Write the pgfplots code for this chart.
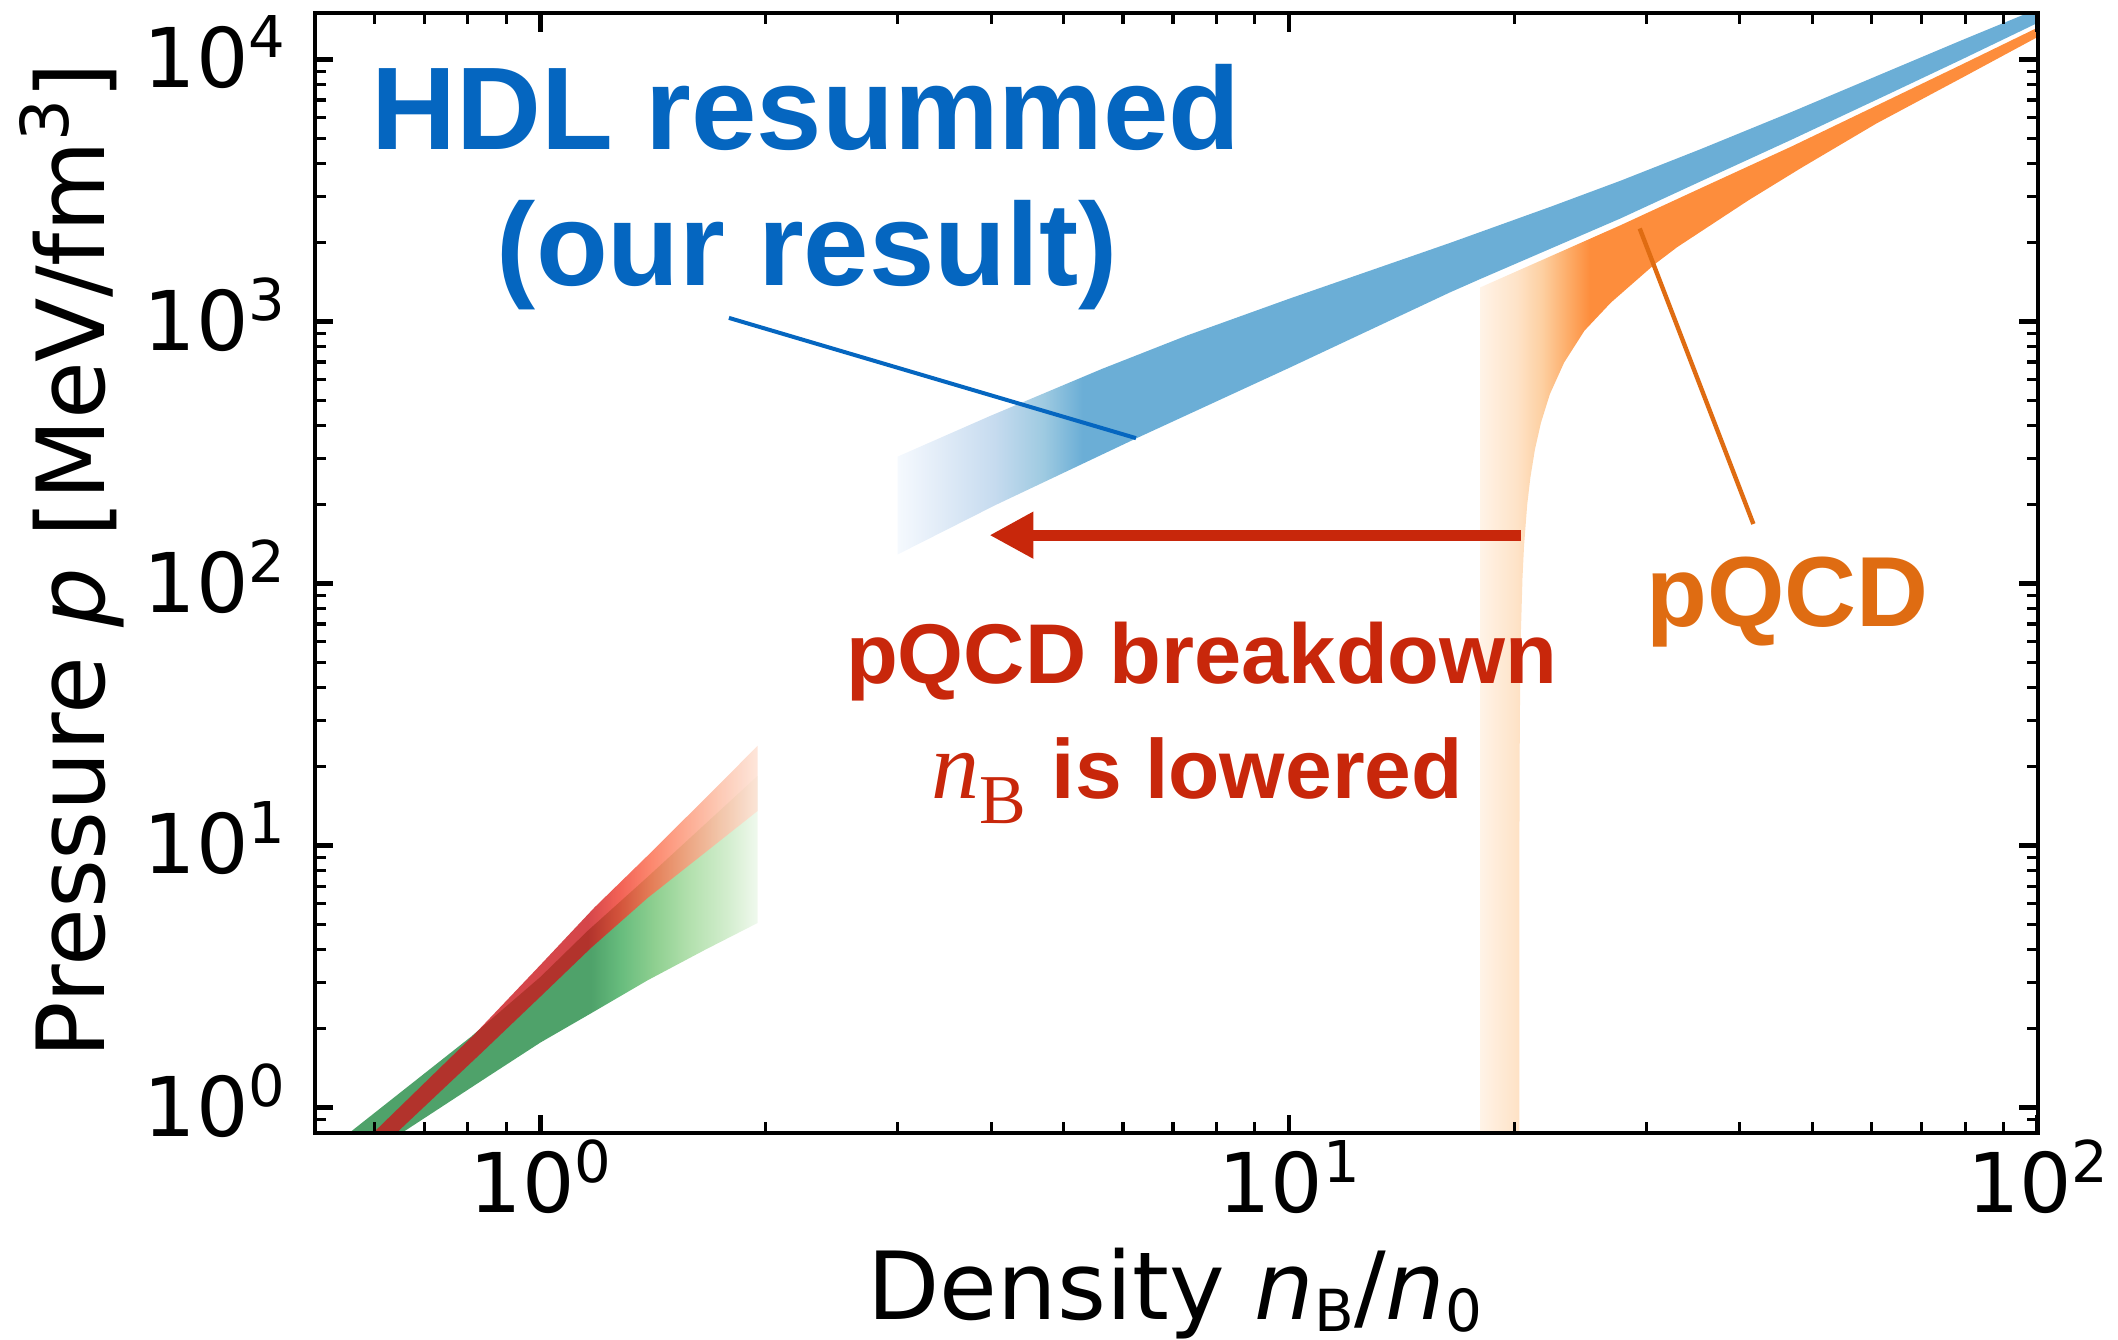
\documentclass[border=0pt]{standalone}
\usepackage{fontspec}
\setmainfont{DejaVu Sans}
\newfontfamily\annfont{Liberation Sans}
\newfontfamily\serifont{Liberation Serif}
\usepackage{pgfplots}
\pgfplotsset{compat=1.18}
\usetikzlibrary{arrows.meta}

\definecolor{hdlblue}{HTML}{0566C0}
\definecolor{pqorange}{HTML}{DF6C12}
\definecolor{brkred}{HTML}{C8270B}

\definecolor{bl0}{HTML}{F5F9FE}
\definecolor{bl1}{HTML}{E3EDF8}
\definecolor{bl2}{HTML}{C6DBEF}
\definecolor{bl3}{HTML}{9ECAE1}
\definecolor{bl4}{HTML}{6BAED6}

\definecolor{or0}{HTML}{FFF3E7}
\definecolor{or1}{HTML}{FEE3C8}
\definecolor{or2}{HTML}{FDD0A2}
\definecolor{or3}{HTML}{FDAE6B}
\definecolor{or4}{HTML}{FD8D3C}

\definecolor{gr0}{HTML}{4FA26A}
\definecolor{gr1}{HTML}{67BC7D}
\definecolor{gr2}{HTML}{90D091}
\definecolor{gr3}{HTML}{B4E1AF}
\definecolor{gr4}{HTML}{D2EDCD}
\definecolor{gr5}{HTML}{F0F9EE}

\definecolor{rd0}{HTML}{CB181D}
\definecolor{rd1}{HTML}{EF3B2C}
\definecolor{rd2}{HTML}{FB6A4A}
\definecolor{rd3}{HTML}{FC9272}
\definecolor{rd4}{HTML}{FCBBA1}
\definecolor{rd5}{HTML}{FEE0D2}

\pgfdeclarehorizontalshading{blueband}{100bp}{color(0bp)=(bl0); color(25bp)=(bl0); color(26.7bp)=(bl1); color(29.25bp)=(bl2); color(31.4bp)=(bl3); color(33.1bp)=(bl4); color(100bp)=(bl4)}
\pgfdeclarehorizontalshading{orangeband}{100bp}{color(0bp)=(or0); color(25bp)=(or0); color(28.25bp)=(or1); color(30.5bp)=(or2); color(32.75bp)=(or3); color(34.85bp)=(or4); color(100bp)=(or4)}
\pgfdeclarehorizontalshading{greenband}{100bp}{color(0bp)=(gr0); color(56.2bp)=(gr0); color(59.5bp)=(gr1); color(63.5bp)=(gr2); color(67.5bp)=(gr3); color(71.5bp)=(gr4); color(75bp)=(gr5); color(100bp)=(gr5)}
\pgfdeclarehorizontalshading{redband}{100bp}{color(0bp)=(rd0); color(53.45bp)=(rd0); color(57.5bp)=(rd1); color(61.5bp)=(rd2); color(65.5bp)=(rd3); color(70bp)=(rd4); color(75bp)=(rd5); color(100bp)=(rd5)}

\newcommand{\tenpow}[1]{10\raisebox{7.5pt}{\fontsize{14.4}{14.4}\selectfont #1}}

\begin{document}
\begin{tikzpicture}
\begin{axis}[
  name=ax,
  at={(0,0)}, anchor=south west,
  scale only axis,
  width=430.7pt, height=279.9pt,
  xmode=log, ymode=log,
  xmin=0.5, xmax=100, ymin=0.8, ymax=15000,
  axis on top,
  xtick={1,10,100},
  xticklabels={\tenpow{0},\tenpow{1},\tenpow{2}},
  ytick={1,10,100,1000,10000},
  yticklabels={\tenpow{0},\tenpow{1},\tenpow{2},\tenpow{3},\tenpow{4}},
  minor xtick={0.5,0.6,0.7,0.8,0.9,2,3,4,5,6,7,8,9,20,30,40,50,60,70,80,90},
  minor ytick={0.8,0.9,2,3,4,5,6,7,8,9,20,30,40,50,60,70,80,90,200,300,400,500,600,700,800,900,2000,3000,4000,5000,6000,7000,8000,9000},
  tick align=inside,
  xtick pos=both, ytick pos=both,
  major tick length=4.6pt, minor tick length=2.75pt,
  every major tick/.append style={line width=1.2pt, black},
  every minor tick/.append style={line width=0.8pt, black},
  axis line style={line width=1pt},
  xticklabel style={font=\fontsize{20.6}{24}\selectfont, inner sep=0pt, anchor=north, yshift=-1.6pt},
  yticklabel style={font=\fontsize{20.6}{24}\selectfont, inner sep=0pt, anchor=east, xshift=-7.2pt, yshift=1.75pt},
  xlabel={Density \textit{n}\raisebox{-3pt}{\fontsize{14.5}{14.5}\selectfont B}/\textit{n}\raisebox{-3pt}{\fontsize{14.5}{14.5}\selectfont 0}},
  ylabel={Pressure \textit{p} [MeV/fm\raisebox{9pt}{\fontsize{16.5}{16.5}\selectfont 3}]},
  every axis x label/.style={at={(axis description cs:0.4991,-0.167)}, anchor=base, font=\fontsize{23.5}{28}\selectfont, inner sep=0pt},
  every axis y label/.style={at={(axis description cs:-0.1220,0.5112)}, rotate=90, anchor=base, font=\fontsize{23.5}{28}\selectfont, inner sep=0pt},
]

% HDL resummed band (blue): upper edge left to right, then lower edge right to left
\addplot[draw=none, shading=blueband] coordinates {
  (3.0,305) (3.981,435) (5.623,659) (7.29,882) (10,1221) (16.4,1994) (22.39,2746) (27.7,3443)
  (35.48,4550) (46.9,6306) (63.1,9016) (79.2,11850) (100,15600)
  (100,13800) (79.2,10010) (63.1,7362) (46.9,4943) (35.48,3428) (27.7,2472) (22.39,1901)
  (18,1452) (16.4,1291) (10,665) (6.25,358) (4.05,199) (3.0,129)};

% pQCD band (orange)
\addplot[draw=none, shading=orangeband] coordinates {
  (18,1349) (22.39,1778) (27.7,2328) (35.48,3228) (46.9,4656) (63.1,7000) (79.2,9570) (100,13240)
  (100,12190) (79.2,8510) (60.9,5700) (48.3,3855) (41.1,2904) (33.0,1923) (30.8,1656) (26.9,1180)
  (24.8,922) (23.3,697) (22.3,528) (21.7,411) (21.3,325) (21.0,253) (20.8,200) (20.6,140)
  (20.5,105) (20.4,65) (20.35,40) (20.32,21) (20.305,8) (20.3,0.5) (18,0.5)};

% green band
\addplot[draw=none, shading=greenband] coordinates {
  (0.5,0.63) (0.5613,0.819) (0.808,1.864) (1.0,3.15) (1.157,4.73) (1.391,7.59) (1.951,18.44)
  (1.951,5.062) (1.66,4.0) (1.391,3.06) (1.169,2.29) (1.0,1.77) (0.8503,1.31) (0.6613,0.819) (0.62,0.725)};

% red band
\addplot[draw=none, shading=redband, fill opacity=0.8] coordinates {
  (0.58,0.736) (0.6031,0.819) (0.8162,1.90) (1.0,3.5) (1.181,5.8) (1.391,9.15) (1.708,16.4) (1.951,24.03)
  (1.951,13.55) (1.66,9.4) (1.391,6.31) (1.169,4.07) (1.0,2.65) (0.833,1.61) (0.648,0.819) (0.62,0.727)};

% annotation lines
\addplot[hdlblue, line width=1pt] coordinates {(1.786,1032) (6.245,358.7)};
\addplot[pqorange, line width=1.1pt] coordinates {(29.4,2264) (41.7,168.7)};
\addplot[brkred, line width=2.7pt, -{Triangle[length=11pt,width=11pt]}] coordinates {(20.4,152.9) (3.98,152.9)};

% texts
\node[anchor=base, text=hdlblue, inner sep=0pt, font=\annfont\bfseries\fontsize{29.4}{34}\selectfont] at (rel axis cs:0.285,0.878) {HDL resummed};
\node[anchor=base, text=hdlblue, inner sep=0pt, font=\annfont\bfseries\fontsize{29.4}{34}\selectfont] at (rel axis cs:0.2857,0.7573) {(our result)};
\node[anchor=base, text=pqorange, inner sep=0pt, font=\annfont\bfseries\fontsize{24.9}{28}\selectfont] at (rel axis cs:0.8548,0.4522) {pQCD};
\node[anchor=base, text=brkred, inner sep=0pt, font=\annfont\bfseries\fontsize{21.2}{24}\selectfont] at (rel axis cs:0.5148,0.4016) {pQCD breakdown};
\node[anchor=base, text=brkred, inner sep=0pt] at (rel axis cs:0.512,0.2989) {{\serifont\itshape\fontsize{24}{24}\selectfont n}\raisebox{-6.25pt}{\serifont\fontsize{17.5}{17.5}\selectfont B}\hspace{6.5pt}{\annfont\bfseries\fontsize{21}{24}\selectfont is lowered}};

\end{axis}
\pgfresetboundingbox
\useasboundingbox ([shift={(-78.75pt,-51.75pt)}]ax.south west) rectangle ([shift={(20.05pt,3.33pt)}]ax.north east);
\end{tikzpicture}
\end{document}
